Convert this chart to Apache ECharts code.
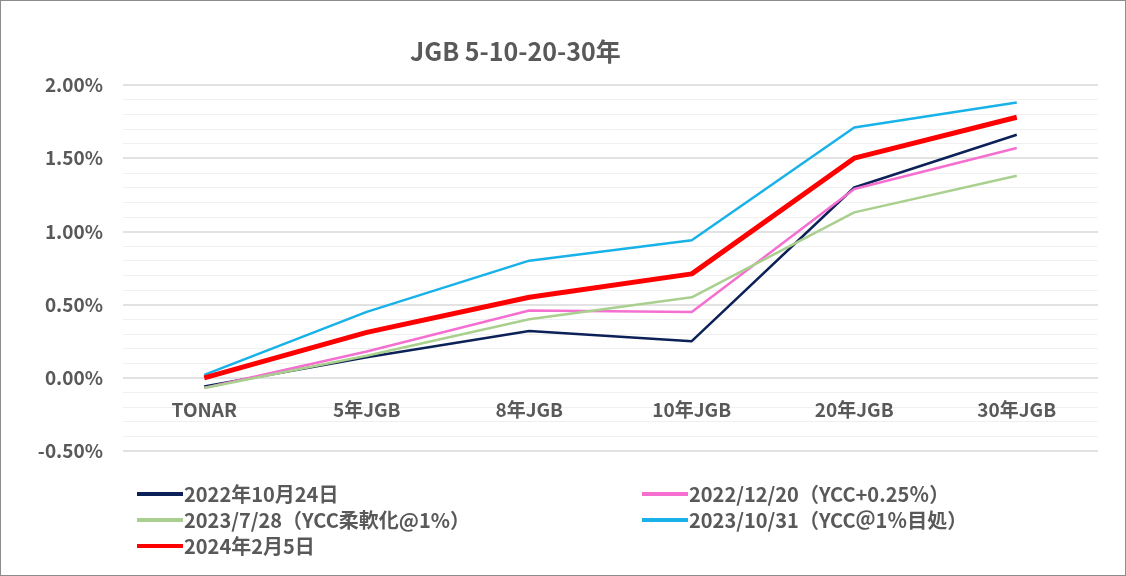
<!DOCTYPE html>
<html>
<head>
<meta charset="utf-8">
<script src="https://cdn.jsdelivr.net/npm/echarts@6/dist/echarts.min.js"></script>
<style>
  html, body { margin: 0; padding: 0; background: #fff; }
  #main { width: 1124px; height: 574px; border: 1px solid #8c8c8c; }
</style>
</head>
<body>
<div id="main"></div>
<script>
// カテゴリ
var categories = ['TONAR', '5年JGB', '8年JGB', '10年JGB', '20年JGB', '30年JGB'];
// 各日付の利回り (%)
var y20221024 = [-0.06, 0.14, 0.32, 0.25, 1.30, 1.66];
var y20221220 = [-0.07, 0.18, 0.46, 0.45, 1.29, 1.57];
var y20230728 = [-0.07, 0.15, 0.40, 0.55, 1.13, 1.38];
var y20231031 = [0.02, 0.45, 0.80, 0.94, 1.71, 1.88];
var y20240205 = [0.00, 0.31, 0.55, 0.71, 1.50, 1.78];
var seriesNames = [
  '2022年10月24日',
  '2022/12/20（YCC+0.25％）',
  '2023/7/28（YCC柔軟化@1%）',
  '2023/10/31（YCC＠1％目処）',
  '2024年2月5日'
];
var yTicks = [-0.5, 0, 0.5, 1.0, 1.5, 2.0];

var font = '"Noto Sans CJK JP", "Noto Sans", sans-serif';
var textColor = '#595959';

var legendText = { fontFamily: font, fontSize: 20, fontWeight: 'bold', color: textColor, padding: [0, 0, 0, -4] };

var myChart = echarts.init(document.getElementById('main'));
var option = {
  animation: false,
  title: {
    text: 'JGB 5-10-20-30年',
    left: 404,
    top: 33,
    textStyle: { fontFamily: font, fontSize: 25, fontWeight: 'bold', color: textColor }
  },
  grid: { left: 122, right: 27, top: 84, bottom: 124 },
  legend: [
    {
      data: [seriesNames[0], seriesNames[2], seriesNames[4]],
      orient: 'vertical',
      left: 131,
      top: 478,
      itemWidth: 46,
      itemHeight: 4,
      itemGap: 6,
      icon: 'rect',
      textStyle: legendText
    },
    {
      data: [seriesNames[1], seriesNames[3]],
      orient: 'vertical',
      left: 636,
      top: 478,
      itemWidth: 46,
      itemHeight: 4,
      itemGap: 6,
      icon: 'rect',
      textStyle: legendText
    }
  ],
  xAxis: {
    type: 'category',
    data: categories,
    boundaryGap: true,
    offset: -73,
    axisLine: { show: false },
    axisTick: { show: false },
    axisLabel: { fontFamily: font, fontSize: 19, fontWeight: 'bold', color: textColor, margin: 22 }
  },
  yAxis: {
    type: 'value',
    min: yTicks[0],
    max: yTicks[yTicks.length - 1],
    interval: 0.5,
    axisLine: { show: false },
    axisTick: { show: false },
    axisLabel: {
      fontFamily: font, fontSize: 19, fontWeight: 'bold', color: textColor, margin: 20,
      formatter: function (v) { return v.toFixed(2) + '%'; }
    },
    splitLine: { lineStyle: { color: '#d9d9d9', width: 1.5 } },
    minorTick: { show: false, splitNumber: 5 },
    minorSplitLine: { show: true, lineStyle: { color: '#f0f0f0', width: 1 } }
  },
  series: [
    { name: seriesNames[0], type: 'line', data: y20221024, symbol: 'none', z: 3,
      lineStyle: { color: '#0c2157', width: 2.5 }, itemStyle: { color: '#0c2157' } },
    { name: seriesNames[1], type: 'line', data: y20221220, symbol: 'none', z: 3,
      lineStyle: { color: '#f46fd0', width: 2.5 }, itemStyle: { color: '#f46fd0' } },
    { name: seriesNames[2], type: 'line', data: y20230728, symbol: 'none', z: 3,
      lineStyle: { color: '#a9d08e', width: 2.5 }, itemStyle: { color: '#a9d08e' } },
    { name: seriesNames[3], type: 'line', data: y20231031, symbol: 'none', z: 3,
      lineStyle: { color: '#18b2e8', width: 2.5 }, itemStyle: { color: '#18b2e8' } },
    { name: seriesNames[4], type: 'line', data: y20240205, symbol: 'none', z: 4,
      lineStyle: { color: '#ff0000', width: 5 }, itemStyle: { color: '#ff0000' } }
  ]
};
myChart.setOption(option);
</script>
</body>
</html>
